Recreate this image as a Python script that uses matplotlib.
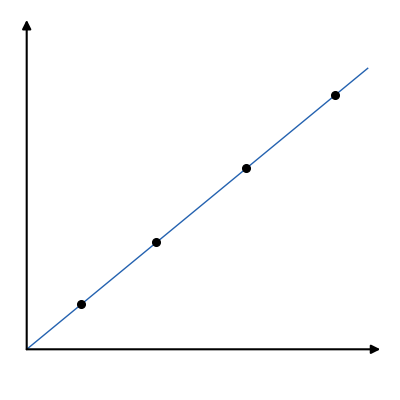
import matplotlib
matplotlib.use("Agg")
import matplotlib.pyplot as plt

# fitted line and sample points (arbitrary units)
line_x = [0, 10]
line_y = [0, 8.24]
pts_x = [1.58, 3.78, 6.43, 9.04]
pts_y = [1.33, 3.16, 5.32, 7.47]

X_MAX, Y_MAX = 10.6, 10.2
PX = 34.1  # pixels per unit

fig = plt.figure(figsize=(4, 4), dpi=100)
ax = fig.add_axes([26.7 / 400, (400 - 349.3) / 400, X_MAX * PX / 400, Y_MAX * PX / 400])
ax.set_xlim(0, X_MAX)
ax.set_ylim(0, Y_MAX)
ax.axis("off")

# axes with arrow heads
arrow = dict(arrowstyle="-|>", color="black", lw=1.5, mutation_scale=13,
             shrinkA=0, shrinkB=0)
ax.annotate("", xy=(10.37, 0), xytext=(0, 0), arrowprops=arrow, annotation_clip=False)
ax.annotate("", xy=(0, 9.66), xytext=(0, 0), arrowprops=arrow, annotation_clip=False)

ax.plot(line_x, line_y, color="#2462b0", lw=1.0, zorder=2)
ax.plot(pts_x, pts_y, "o", color="black", markersize=5.5, zorder=3)

fig.savefig("out.png", dpi=100, facecolor="white")
